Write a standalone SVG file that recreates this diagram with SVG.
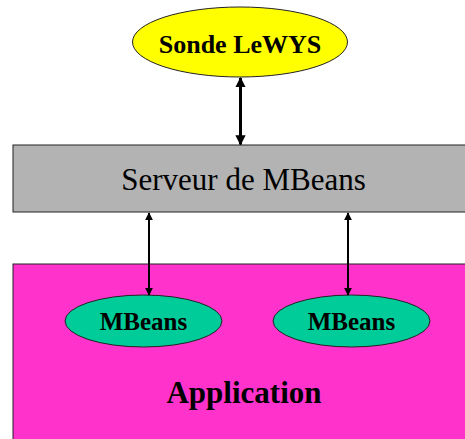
<svg xmlns="http://www.w3.org/2000/svg" width="465" height="439" viewBox="0 0 465 439">
<style>
.lbl{font-family:"Liberation Serif","Times New Roman",serif;fill:#000;text-anchor:middle}
.b{font-weight:bold}
.edge{stroke:#000;fill:none}
.shape{stroke:#222;stroke-width:1}
</style>
<defs>
<marker id="ahBig" viewBox="0 0 10 10" refX="9" refY="5" markerWidth="3.4" markerHeight="3.4" markerUnits="strokeWidth" orient="auto-start-reverse">
<path d="M0,0 L10,5 L0,10 z" fill="#000"/>
</marker>
<marker id="ahSmall" viewBox="0 0 10 10" refX="9" refY="5" markerWidth="4" markerHeight="4" markerUnits="strokeWidth" orient="auto-start-reverse">
<path d="M0,0 L10,5 L0,10 z" fill="#000"/>
</marker>
</defs>
<rect width="465" height="439" fill="#fff"/>
<g id="application">
<rect class="shape" x="13" y="264" width="460" height="190" fill="#ff33cc"/>
<text class="lbl b" x="244" y="403" font-size="31">Application</text>
</g>
<g id="serveur">
<rect class="shape" x="13" y="145" width="460" height="67" fill="#b3b3b3"/>
<text class="lbl" x="243.5" y="190" font-size="31">Serveur de MBeans</text>
</g>
<g id="sonde">
<ellipse class="shape" cx="240" cy="42" rx="107.5" ry="35" fill="#ffff00"/>
<text class="lbl b" x="240" y="53" font-size="26">Sonde LeWYS</text>
</g>
<g id="mbeans1">
<ellipse class="shape" cx="143.5" cy="321" rx="78.5" ry="26" fill="#00cc99"/>
<text class="lbl b" x="143.5" y="330" font-size="25">MBeans</text>
</g>
<g id="mbeans2">
<ellipse class="shape" cx="351.5" cy="321" rx="78.5" ry="26" fill="#00cc99"/>
<text class="lbl b" x="351.5" y="330" font-size="25">MBeans</text>
</g>
<g id="connectors">
<line class="edge" x1="240.5" y1="78" x2="240.5" y2="144.5" stroke-width="3" marker-start="url(#ahBig)" marker-end="url(#ahBig)"/>
<line class="edge" x1="149" y1="213" x2="149" y2="295" stroke-width="2" marker-start="url(#ahSmall)" marker-end="url(#ahSmall)"/>
<line class="edge" x1="348" y1="213" x2="348" y2="295" stroke-width="2" marker-start="url(#ahSmall)" marker-end="url(#ahSmall)"/>
</g>
</svg>
